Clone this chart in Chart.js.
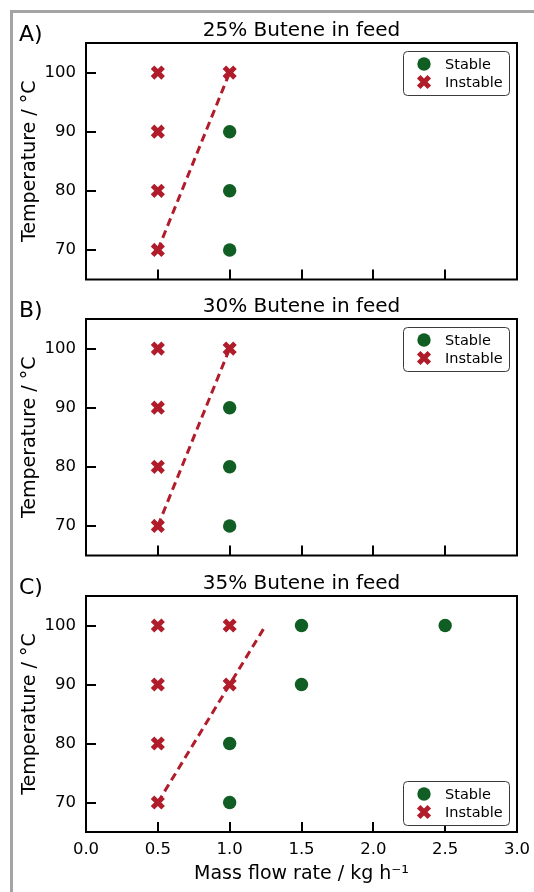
<!DOCTYPE html>
<html>
<head>
<meta charset="utf-8">
<script src="https://cdn.jsdelivr.net/npm/chart.js@4.4.1/dist/chart.umd.min.js"></script>
<style>
  html, body { margin: 0; padding: 0; width: 534px; height: 892px; overflow: hidden; background: #fff; }
  #frame { position: absolute; left: 10px; top: 10px; width: 530px; height: 900px;
           border-left: 3px solid #a4a4a4; border-top: 3px solid #a4a4a4; }
  canvas { position: absolute; left: 0; }
</style>
</head>
<body>
<div id="frame"></div>
<canvas id="panelA" width="534" height="292" style="top:0px"></canvas>
<canvas id="panelB" width="534" height="292" style="top:276px"></canvas>
<canvas id="panelC" width="534" height="339" style="top:553px"></canvas>
<script>
// axis ticks shared by all three panels
const xTicks = [0, 0.5, 1.0, 1.5, 2.0, 2.5, 3.0];
const yTicks = [70, 80, 90, 100];
const panelLabels = ["A)", "B)", "C)"];
const panelTitles = ["25% Butene in feed", "30% Butene in feed", "35% Butene in feed"];
const seriesNames = ["Stable", "Instable"];

// A) 25% butene
const stableA_x = [1.0, 1.0, 1.0];
const stableA_y = [90, 80, 70];
const instableA_x = [0.5, 0.5, 0.5, 0.5, 1.0];
const instableA_y = [100, 90, 80, 70, 100];
const boundaryA_x = [0.5, 1.0];
const boundaryA_y = [70, 100];

// B) 30% butene
const stableB_x = [1.0, 1.0, 1.0];
const stableB_y = [90, 80, 70];
const instableB_x = [0.5, 0.5, 0.5, 0.5, 1.0];
const instableB_y = [100, 90, 80, 70, 100];
const boundaryB_x = [0.5, 1.0];
const boundaryB_y = [70, 100];

// C) 35% butene
const stableC_x = [1.5, 2.5, 1.5, 1.0, 1.0];
const stableC_y = [100, 100, 90, 80, 70];
const instableC_x = [0.5, 1.0, 0.5, 1.0, 0.5, 0.5];
const instableC_y = [100, 100, 90, 90, 80, 70];
const boundaryC_x = [0.5, 1.25];
const boundaryC_y = [70, 100];

const green = "#115e24";
const red = "#b11c2b";
const fontFamily = "'DejaVu Sans', sans-serif";

Chart.defaults.font.family = fontFamily;
Chart.defaults.color = "#000";
Chart.defaults.animation = false;

function toPoints(xs, ys) {
    let pts = [];
    for (let i = 0; i < xs.length; i++) {
        pts.push({ x: xs[i], y: ys[i] });
    }
    return pts;
}

// no automatic label padding, so the plot box lands where we want it
function noPad(s) {
    s.paddingTop = 0;
    s.paddingBottom = 0;
    s.paddingLeft = 0;
    s.paddingRight = 0;
}

// frame, inward ticks, panel letter and the legend box inside the axes
const panelDecor = {
    id: "panelDecor",
    afterDraw(chart, args, opts) {
        const ctx = chart.ctx;
        const area = chart.chartArea;
        const xs = chart.scales.x;
        const ys = chart.scales.y;
        ctx.save();
        ctx.strokeStyle = "#000";
        ctx.lineWidth = 2;
        ctx.beginPath();
        yTicks.forEach(v => {
            const py = Math.round(ys.getPixelForValue(v));
            ctx.moveTo(area.left, py);
            ctx.lineTo(area.left + 10, py);
        });
        xTicks.forEach(v => {
            if (v <= xs.min || v >= xs.max) return;
            const px = Math.round(xs.getPixelForValue(v));
            ctx.moveTo(px, area.bottom);
            ctx.lineTo(px, area.bottom - 10);
        });
        ctx.stroke();
        ctx.strokeRect(area.left, area.top, area.width, area.height);

        // panel letter
        ctx.fillStyle = "#000";
        ctx.font = "22px " + fontFamily;
        ctx.textAlign = "left";
        ctx.textBaseline = "alphabetic";
        ctx.fillText(opts.label, 19, 41);

        // legend
        const items = chart.data.datasets.filter(d => d.inLegend);
        const boxW = 106, boxH = 44;
        const bx = area.right - 8 - boxW;
        const by = opts.legendAt === "bottom" ? area.bottom - 7 - boxH : area.top + 8;
        ctx.lineWidth = 1;
        ctx.strokeStyle = "#3a3a3a";
        ctx.fillStyle = "#fff";
        ctx.beginPath();
        ctx.roundRect(bx + 0.5, by + 0.5, boxW, boxH, 4);
        ctx.fill();
        ctx.stroke();
        items.forEach((d, i) => {
            const cy = by + 13 + i * 18;
            ctx.fillStyle = d.pointBackgroundColor;
            ctx.strokeStyle = d.pointBorderColor;
            ctx.lineWidth = d.pointBorderWidth;
            Chart.helpers.drawPoint(ctx, {
                pointStyle: d.pointStyle,
                radius: d.pointRadius,
                borderWidth: d.pointBorderWidth,
                rotation: 0
            }, bx + 21, cy);
            ctx.fillStyle = "#000";
            ctx.font = "14.5px " + fontFamily;
            ctx.textBaseline = "middle";
            ctx.fillText(d.label, bx + 42, cy + 1);
        });
        ctx.restore();
    }
};

function makePanel(canvasId, idx, stX, stY, inX, inY, bX, bY, legendAt, showX) {
    new Chart(document.getElementById(canvasId), {
        type: "scatter",
        data: {
            datasets: [
                {
                    label: seriesNames[0],
                    inLegend: true,
                    data: toPoints(stX, stY),
                    pointStyle: "circle",
                    pointRadius: 6.7,
                    pointBackgroundColor: green,
                    pointBorderColor: green,
                    pointBorderWidth: 0
                },
                {
                    label: seriesNames[1],
                    inLegend: true,
                    data: toPoints(inX, inY),
                    pointStyle: "crossRot",
                    pointRadius: 7.5,
                    pointBackgroundColor: red,
                    pointBorderColor: red,
                    pointBorderWidth: 5
                },
                {
                    label: "boundary",
                    type: "line",
                    data: toPoints(bX, bY),
                    borderColor: red,
                    borderWidth: 3,
                    borderDash: [8, 5],
                    pointRadius: 0,
                    fill: false
                }
            ]
        },
        options: {
            responsive: false,
            layout: { padding: { top: 0, left: 0, right: 17, bottom: showX ? 0 : 6 } },
            plugins: {
                legend: { display: false },
                tooltip: { enabled: false },
                title: {
                    display: true,
                    text: panelTitles[idx],
                    fullSize: false,
                    color: "#000",
                    font: { size: 20, weight: "normal" },
                    padding: { top: 19, bottom: 0 }
                },
                panelDecor: { label: panelLabels[idx], legendAt: legendAt }
            },
            scales: {
                x: {
                    type: "linear",
                    min: 0,
                    max: 3,
                    afterBuildTicks: s => { s.ticks = xTicks.map(v => ({ value: v })); },
                    afterFit: s => { s.height = showX ? 60 : 0; noPad(s); },
                    grid: { display: false, drawTicks: false },
                    border: { display: false },
                    ticks: {
                        display: showX,
                        padding: 8,
                        color: "#000",
                        font: { size: 16.5 },
                        maxRotation: 0,
                        callback: v => Number(v).toFixed(1)
                    },
                    title: {
                        display: showX,
                        text: "Mass flow rate / kg h\u207B\u00B9",
                        color: "#000",
                        font: { size: 19 },
                        padding: { top: 0, bottom: 7 }
                    }
                },
                y: {
                    type: "linear",
                    min: 65,
                    max: 105,
                    afterBuildTicks: s => { s.ticks = yTicks.map(v => ({ value: v })); },
                    afterFit: s => { s.width = 86; noPad(s); },
                    grid: { display: false, drawTicks: false },
                    border: { display: false },
                    ticks: { padding: 10, color: "#000", font: { size: 16.5 } },
                    title: {
                        display: true,
                        text: "Temperature / \u00B0C",
                        color: "#000",
                        font: { size: 19 },
                        padding: { top: 19, bottom: 0 }
                    }
                }
            }
        },
        plugins: [panelDecor]
    });
}

makePanel("panelA", 0, stableA_x, stableA_y, instableA_x, instableA_y, boundaryA_x, boundaryA_y, "top", false);
makePanel("panelB", 1, stableB_x, stableB_y, instableB_x, instableB_y, boundaryB_x, boundaryB_y, "top", false);
makePanel("panelC", 2, stableC_x, stableC_y, instableC_x, instableC_y, boundaryC_x, boundaryC_y, "bottom", true);
</script>
</body>
</html>
